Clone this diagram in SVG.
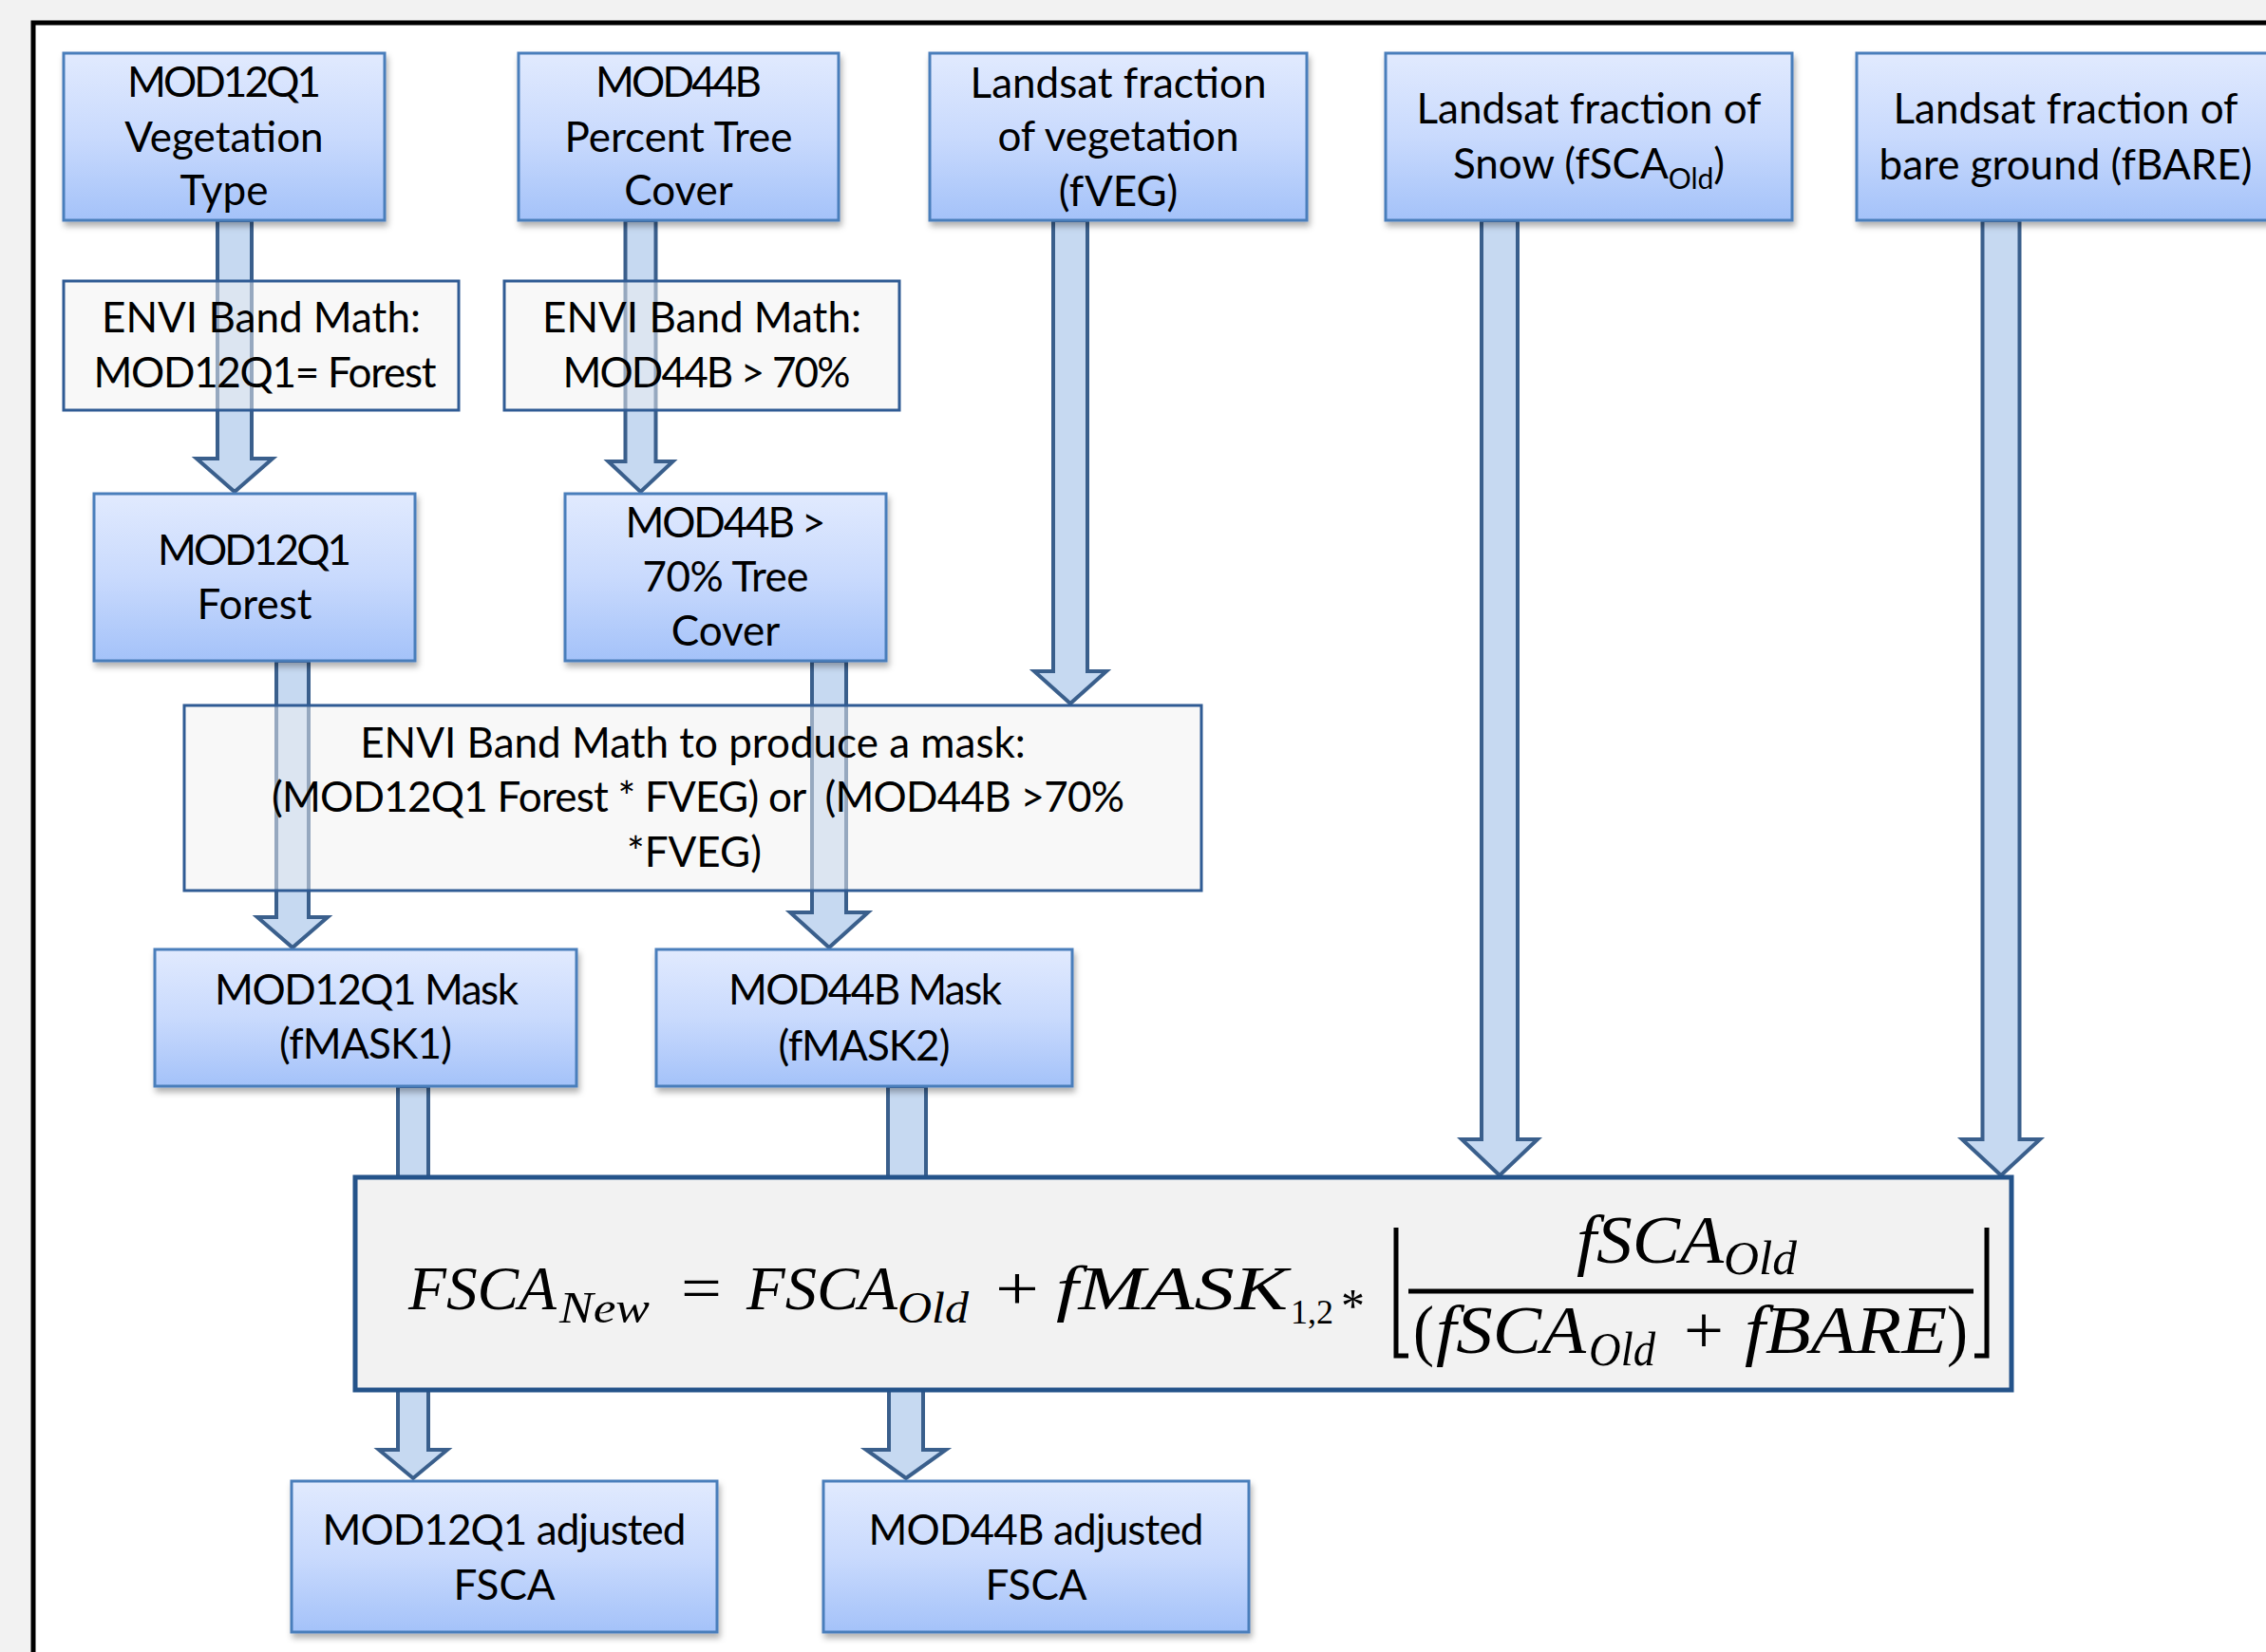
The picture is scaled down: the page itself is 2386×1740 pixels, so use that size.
<svg xmlns="http://www.w3.org/2000/svg" width="2386" height="1740" viewBox="0 0 2386 1740">
<defs>
<linearGradient id="blueGrad" x1="0" y1="0" x2="0" y2="1">
<stop offset="0" stop-color="#e1eafe"/>
<stop offset="0.5" stop-color="#c9dafd"/>
<stop offset="1" stop-color="#a4c2f9"/>
</linearGradient>
<filter id="shadow" x="-10%" y="-10%" width="130%" height="130%">
<feDropShadow dx="2" dy="5" stdDeviation="3" flood-color="#000" flood-opacity="0.3"/>
</filter>
<style>
.bx{fill:url(#blueGrad);stroke:#4a7ebb;stroke-width:3;filter:url(#shadow);}
.pb{fill:#f2f2f2;fill-opacity:0.5;stroke:#2f5b94;stroke-width:3;}
.fb{fill:#f2f2f2;stroke:#24538a;stroke-width:5;}
.arr{fill:#c6d9f1;stroke:#3a5f8c;stroke-width:4;stroke-linejoin:miter;}
.t{font-family:Lato,"Liberation Sans",sans-serif;font-size:44px;fill:#000;text-anchor:middle;}
.sub{font-size:30px;}
.m{font-family:"Liberation Serif",serif;font-style:italic;font-size:65px;fill:#000;}
.mu{font-family:"Liberation Serif",serif;font-size:65px;fill:#000;}
.mus{font-family:"Liberation Serif",serif;font-size:36px;fill:#000;}
.ast{font-family:"Liberation Serif",serif;font-size:50px;fill:#000;}
.ms{font-family:"Liberation Serif",serif;font-style:italic;font-size:46px;fill:#000;}
.fr{font-family:"Liberation Serif",serif;font-style:italic;font-size:71px;fill:#000;}
.fru{font-family:"Liberation Serif",serif;font-size:71px;fill:#000;}
.frs{font-family:"Liberation Serif",serif;font-style:italic;font-size:50px;fill:#000;}
.rule{stroke:#000;stroke-width:5;fill:none;}
</style>
</defs>
<rect x="0" y="0" width="2386" height="1740" fill="#f2f2f2"/>
<rect x="35" y="24" width="2400" height="1800" fill="#ffffff" stroke="#000" stroke-width="5"/>

<g id="connectors">
<path class="arr" d="M229,232 L265,232 L265,483 L287,483 L247,518 L207,483 L229,483 Z"/>
<path class="arr" d="M658.5,232 L690.5,232 L690.5,486 L708.5,486 L674.5,518 L640.5,486 L658.5,486 Z"/>
<path class="arr" d="M1109,232 L1145,232 L1145,707 L1165,707 L1127,741 L1089,707 L1109,707 Z"/>
<path class="arr" d="M1560,232 L1598,232 L1598,1200 L1619,1200 L1579,1238 L1539,1200 L1560,1200 Z"/>
<path class="arr" d="M2087.5,232 L2126.5,232 L2126.5,1200 L2148,1200 L2107,1238 L2066,1200 L2087.5,1200 Z"/>
<path class="arr" d="M291,696 L325,696 L325,966 L345,966 L308,998 L271,966 L291,966 Z"/>
<path class="arr" d="M855,696 L891,696 L891,961 L914,961 L873,998 L832,961 L855,961 Z"/>
<path class="arr" d="M419,1144 L451,1144 L451,1245 L419,1245 Z"/>
<path class="arr" d="M935,1144 L975,1144 L975,1245 L935,1245 Z"/>
<path class="arr" d="M419,1464 L451,1464 L451,1527 L471,1527 L435,1557 L399,1527 L419,1527 Z"/>
<path class="arr" d="M936,1464 L972,1464 L972,1527 L996,1527 L954,1557 L912,1527 L936,1527 Z"/>
</g>

<g id="mod12q1-veg">
<rect class="bx" x="67" y="56" width="338" height="176"/>
<text class="t" x="236" y="102" textLength="204">MOD12Q1</text>
<text class="t" x="236" y="160">Vegetation</text>
<text class="t" x="236" y="216">Type</text>
</g>

<g id="mod44b-tree">
<rect class="bx" x="546" y="56" width="337" height="176"/>
<text class="t" x="714.5" y="102" textLength="175">MOD44B</text>
<text class="t" x="714.5" y="160">Percent Tree</text>
<text class="t" x="714.5" y="216">Cover</text>
</g>

<g id="landsat-fveg">
<rect class="bx" x="979" y="56" width="397" height="176"/>
<text class="t" x="1177.5" y="103">Landsat fraction</text>
<text class="t" x="1177.5" y="159">of vegetation</text>
<text class="t" x="1177.5" y="217">(fVEG)</text>
</g>

<g id="landsat-snow">
<rect class="bx" x="1459" y="56" width="428" height="176"/>
<text class="t" x="1673" y="130">Landsat fraction of</text>
<text class="t" x="1673" y="188">Snow (fSCA<tspan class="sub" dy="11">Old</tspan><tspan dy="-11">)</tspan></text>
</g>

<g id="landsat-bare">
<rect class="bx" x="1955" y="56" width="445" height="176"/>
<text class="t" x="2175" y="130">Landsat fraction of</text>
<text class="t" x="2175" y="189">bare ground (fBARE)</text>
</g>

<g id="envi-forest">
<rect class="pb" x="67" y="296" width="416" height="136"/>
<text class="t" x="275" y="350">ENVI Band Math:</text>
<text class="t" x="279" y="408" textLength="361">MOD12Q1= Forest</text>
</g>

<g id="envi-tree">
<rect class="pb" x="531" y="296" width="416" height="136"/>
<text class="t" x="739" y="350">ENVI Band Math:</text>
<text class="t" x="744" y="408" textLength="303">MOD44B &gt; 70%</text>
</g>

<g id="mod12q1-forest">
<rect class="bx" x="99" y="520" width="338" height="176"/>
<text class="t" x="268" y="595" textLength="204">MOD12Q1</text>
<text class="t" x="268" y="652">Forest</text>
</g>

<g id="mod44b-70">
<rect class="bx" x="595" y="520" width="338" height="176"/>
<text class="t" x="764" y="566" textLength="211">MOD44B &gt;</text>
<text class="t" x="764" y="623" textLength="175">70% Tree</text>
<text class="t" x="764" y="680">Cover</text>
</g>

<g id="envi-mask">
<rect class="pb" x="194" y="743" width="1071" height="195"/>
<text class="t" x="729.5" y="798">ENVI Band Math to produce a mask:</text>
<text class="t" x="735" y="855" style="white-space:pre" textLength="898">(MOD12Q1 Forest * FVEG) or  (MOD44B &gt;70%</text>
<text class="t" x="731" y="913">*FVEG)</text>
</g>

<g id="mod12q1-mask">
<rect class="bx" x="163" y="1000" width="444" height="144"/>
<text class="t" x="386" y="1058" textLength="320">MOD12Q1 Mask</text>
<text class="t" x="385" y="1115" textLength="182">(fMASK1)</text>
</g>

<g id="mod44b-mask">
<rect class="bx" x="691" y="1000" width="438" height="144"/>
<text class="t" x="911" y="1058" textLength="288">MOD44B Mask</text>
<text class="t" x="910" y="1117" textLength="181">(fMASK2)</text>
</g>

<g id="formula">
<rect class="fb" x="374" y="1240" width="1744" height="224"/>
<text class="m" x="430" y="1379" textLength="156" lengthAdjust="spacingAndGlyphs">FSCA</text>
<text class="ms" x="589" y="1393" textLength="95" lengthAdjust="spacingAndGlyphs">New</text>
<text class="mu" x="717" y="1379" textLength="43" lengthAdjust="spacingAndGlyphs">=</text>
<text class="m" x="786" y="1379" textLength="159" lengthAdjust="spacingAndGlyphs">FSCA</text>
<text class="ms" x="945" y="1393" textLength="75" lengthAdjust="spacingAndGlyphs">Old</text>
<text class="mu" x="1048" y="1379" textLength="46" lengthAdjust="spacingAndGlyphs">+</text>
<text class="m" x="1112" y="1379" textLength="244" lengthAdjust="spacingAndGlyphs">fMASK</text>
<text class="mus" x="1359" y="1394">1,2</text>
<text class="ast" x="1412" y="1392">*</text>
<polyline class="rule" points="1470,1293 1470,1428 1483,1428"/>
<polyline class="rule" points="2092,1293 2092,1428 2079,1428"/>
<line class="rule" x1="1483" y1="1360" x2="2078" y2="1360"/>
<text class="fr" x="1660" y="1330" textLength="155" lengthAdjust="spacingAndGlyphs">fSCA</text>
<text class="frs" x="1815" y="1342" textLength="77" lengthAdjust="spacingAndGlyphs">Old</text>
<text class="fru" x="1488" y="1425" textLength="22" lengthAdjust="spacingAndGlyphs">(</text>
<text class="fr" x="1512" y="1425" textLength="158" lengthAdjust="spacingAndGlyphs">fSCA</text>
<text class="frs" x="1673" y="1438" textLength="70" lengthAdjust="spacingAndGlyphs">Old</text>
<text class="fru" x="1773" y="1425" textLength="42" lengthAdjust="spacingAndGlyphs">+</text>
<text class="fr" x="1837" y="1425" textLength="213" lengthAdjust="spacingAndGlyphs">fBARE</text>
<text class="fru" x="2050" y="1425" textLength="22" lengthAdjust="spacingAndGlyphs">)</text>
</g>

<g id="mod12q1-adjusted">
<rect class="bx" x="307" y="1560" width="448" height="159"/>
<text class="t" x="531" y="1627" textLength="383">MOD12Q1 adjusted</text>
<text class="t" x="531" y="1685">FSCA</text>
</g>

<g id="mod44b-adjusted">
<rect class="bx" x="867" y="1560" width="448" height="159"/>
<text class="t" x="1091" y="1627" textLength="353">MOD44B adjusted</text>
<text class="t" x="1091" y="1685">FSCA</text>
</g>
</svg>
